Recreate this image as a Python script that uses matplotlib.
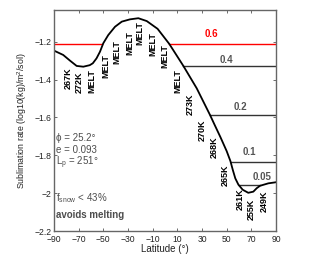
import numpy as np
import matplotlib
matplotlib.use("Agg")
import matplotlib.pyplot as plt

plt.rcParams['font.family'] = ['Liberation Sans', 'DejaVu Sans']
plt.rcParams['mathtext.fontset'] = 'custom'
plt.rcParams['mathtext.rm'] = 'Liberation Sans'
plt.rcParams['mathtext.it'] = 'Liberation Sans:italic'
plt.rcParams['mathtext.bf'] = 'Liberation Sans:bold'

# sublimation rate curve
lat = [-90, -82.5, -77, -71.6, -66.2, -61, -58.5, -55.5, -52.7, -50, -46, -40.5,
       -35, -28.4, -21.6, -14.8, -6, 3.5, 14.8, 25.7, 36.5, 40, 45, 50, 53,
       55, 57, 59.5, 63, 67.5, 71.6, 74.3, 77, 83.8, 89.2, 90]
rate = [-1.247, -1.270, -1.300, -1.328, -1.332, -1.324, -1.314, -1.288, -1.253,
        -1.208, -1.165, -1.121, -1.094, -1.082, -1.076, -1.091, -1.132, -1.212,
        -1.327, -1.446, -1.587, -1.636, -1.705, -1.778, -1.830, -1.878, -1.922,
        -1.955, -1.982, -1.998, -1.992, -1.974, -1.961, -1.948, -1.943, -1.942]

# snow fraction levels (horizontal lines)
level_names = ['0.6', '0.4', '0.2', '0.1', '0.05']
level_vals = [-1.212, -1.327, -1.587, -1.833, -1.957]
level_spans = [[(-90, -50.9), (3.5, 90)], [(14.8, 90)], [(36.5, 90)],
               [(53.2, 90)], [(59.7, 76.8)]]
level_text_lat = [37.3, 49.5, 61.4, 68.1, 78.4]
level_text_val = [-1.161, -1.297, -1.543, -1.781, -1.913]
level_colors = ['#ff0000', '#333333', '#333333', '#333333', '#333333']
level_text_colors = ['#ff0000', '#555555', '#555555', '#555555', '#555555']

# labels along the curve
tag_text = ['267K', '272K', 'MELT', 'MELT', 'MELT', 'MELT', 'MELT', 'MELT',
            'MELT', 'MELT', '273K', '270K', '268K', '265K', '261K', '255K', '249K']
tag_lat = [-78.4, -69.5, -59.2, -47.8, -38.9, -28.4, -20.7, -10.1, 0, 10.1,
           20.3, 30.4, 40.1, 49.2, 60.8, 70.3, 80.5]
tag_val = [-1.392, -1.416, -1.408, -1.328, -1.254, -1.207, -1.154, -1.212,
           -1.276, -1.408, -1.530, -1.666, -1.756, -1.904, -2.031, -2.086, -2.044]

fig = plt.figure(figsize=(3.29, 2.57), dpi=100)
ax = fig.add_axes([0.164, 0.101, 0.675, 0.862])

for i, name in enumerate(level_names):
    for x0, x1 in level_spans[i]:
        ax.plot([x0, x1], [level_vals[i], level_vals[i]], color=level_colors[i], lw=1.0)
    ax.text(level_text_lat[i], level_text_val[i], name, color=level_text_colors[i],
            fontsize=7, fontweight='bold', ha='center', va='center')

ax.plot(lat, rate, color='black', lw=1.3)

for t, x, y in zip(tag_text, tag_lat, tag_val):
    ax.text(x, y, t, rotation=90, fontsize=6.5, fontweight='bold',
            ha='center', va='center', color='black')

gray = '#4d4d4d'
ax.text(-88.5, -1.708, '\u03d5 = 25.2\u00b0', fontsize=7, color=gray, va='center',
        family=['Liberation Sans', 'DejaVu Sans'])
ax.text(-88.5, -1.772, 'e = 0.093', fontsize=7, color=gray, va='center')
ax.text(-88.5, -1.838, r'L$_{\rm p}$ = 251$\degree$', fontsize=7, color=gray, va='center')
ax.text(-88.5, -2.025, r'f$_{\rm snow}$ < 43%', fontsize=7, color=gray, va='center')
ax.text(-88.5, -2.115, 'avoids melting', fontsize=7, color=gray, va='center',
        fontweight='bold')

ax.set_xlim(-90, 90)
ax.set_ylim(-2.2, -1.03)
ax.set_xticks(np.arange(-90, 91, 20))
ax.set_yticks([-2.2, -2.0, -1.8, -1.6, -1.4, -1.2])
ax.set_yticklabels(['\u22122.2', '\u22122', '\u22121.8', '\u22121.6', '\u22121.4', '\u22121.2'])
ax.tick_params(direction='in', top=True, right=True, length=2.5, width=0.6,
               labelsize=6.2, colors='#555555', labelcolor='#222222', pad=1.5)
ax.tick_params(axis='x', pad=2.5)
for s in ax.spines.values():
    s.set_color('#666666')
    s.set_linewidth(1.0)

ax.set_xlabel('Latitude (\u00b0)', fontsize=7, color='#222222', labelpad=0.5)
ax.set_ylabel('Sublimation rate (log10(kg)/m$^2$/sol)', fontsize=6.3,
              color='#222222', labelpad=4)

fig.savefig('out.png', dpi=100)
